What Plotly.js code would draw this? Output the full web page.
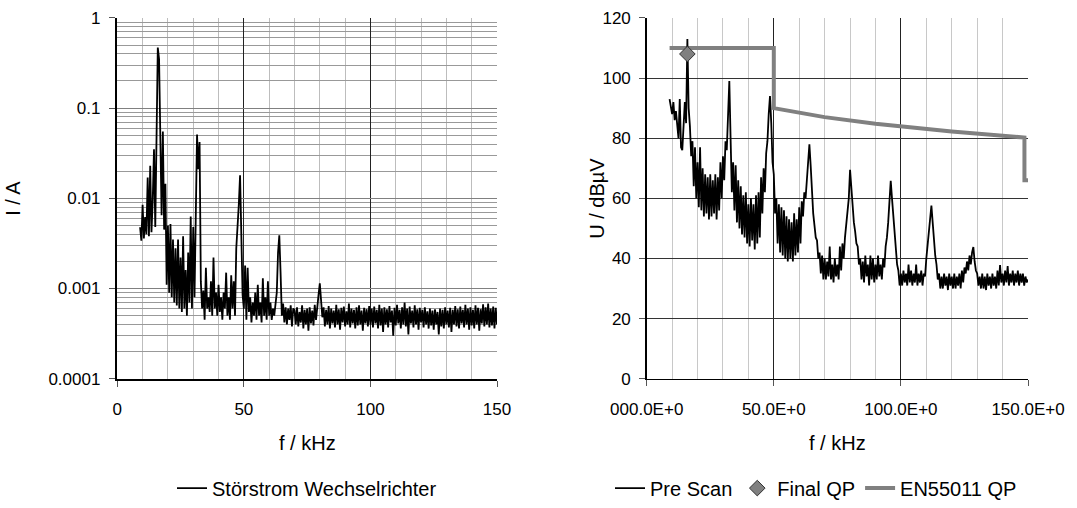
<!DOCTYPE html>
<html>
<head>
<meta charset="utf-8">
<script src="https://cdn.plot.ly/plotly-3.0.1.min.js"></script>
<style>html,body{margin:0;padding:0;background:#fff}#chart{width:1077px;height:508px}</style>
</head>
<body>
<div id="chart"></div>
<script>
// Frequency grid in kHz (shared by both measurements)
const freqKHz = [9,9.5,
10,10.5,11,11.5,12,12.5,13,13.5,14,14.5,15,15.5,16,16.5,17,17.5,18,18.5,19,19.5,
20,20.5,21,21.5,22,22.5,23,23.5,24,24.5,25,25.5,26,26.5,27,27.5,28,28.5,29,29.5,
30,30.5,31,31.5,32,32.5,33,33.5,34,34.5,35,35.5,36,36.5,37,37.5,38,38.5,39,39.5,
40,40.5,41,41.5,42,42.5,43,43.5,44,44.5,45,45.5,46,46.5,47,47.5,48,48.5,49,49.5,
50,50.5,51,51.5,52,52.5,53,53.5,54,54.5,55,55.5,56,56.5,57,57.5,58,58.5,59,59.5,
60,60.5,61,61.5,62,62.5,63,63.5,64,64.5,65,65.5,66,66.5,67,67.5,68,68.5,69,69.5,
70,70.5,71,71.5,72,72.5,73,73.5,74,74.5,75,75.5,76,76.5,77,77.5,78,78.5,79,79.5,
80,80.5,81,81.5,82,82.5,83,83.5,84,84.5,85,85.5,86,86.5,87,87.5,88,88.5,89,89.5,
90,90.5,91,91.5,92,92.5,93,93.5,94,94.5,95,95.5,96,96.5,97,97.5,98,98.5,99,99.5,
100,100.5,101,101.5,102,102.5,103,103.5,104,104.5,105,105.5,106,106.5,107,107.5,108,108.5,109,109.5,
110,110.5,111,111.5,112,112.5,113,113.5,114,114.5,115,115.5,116,116.5,117,117.5,118,118.5,119,119.5,
120,120.5,121,121.5,122,122.5,123,123.5,124,124.5,125,125.5,126,126.5,127,127.5,128,128.5,129,129.5,
130,130.5,131,131.5,132,132.5,133,133.5,134,134.5,135,135.5,136,136.5,137,137.5,138,138.5,139,139.5,
140,140.5,141,141.5,142,142.5,143,143.5,144,144.5,145,145.5,146,146.5,147,147.5,148,148.5,149,149.5,
150];

// Störstrom Wechselrichter, I / A
const stoerstromA = [0.0048,0.0034,
0.0085,0.0036,0.0062,0.0040,0.017,0.0038,0.023,0.0042,0.0095,0.035,0.0048,0.079,0.47,0.35,0.06,0.0065,0.055,0.0045,0.0145,0.0011,
0.005,0.0009,0.0052,0.0008,0.0035,0.0007,0.0028,0.00065,0.0035,0.0006,0.0022,0.00055,0.0038,0.0006,0.0016,0.0005,0.0025,0.0007,0.0063,0.0006,
0.0048,0.0008,0.0062,0.051,0.021,0.042,0.0012,0.0006,0.00095,0.00045,0.0017,0.0006,0.0008,0.00055,0.0012,0.0005,0.0022,0.0006,0.0009,0.0005,
0.0011,0.00055,0.0008,0.00045,0.0009,0.0006,0.0015,0.0005,0.0008,0.00045,0.0014,0.0006,0.0012,0.0005,0.0028,0.0045,0.0085,0.018,0.0042,0.00085,
0.0006,0.0018,0.00045,0.0017,0.00055,0.0008,0.00042,0.0007,0.0005,0.0009,0.00045,0.0011,0.0005,0.0007,0.00042,0.0013,0.0005,0.0008,0.00045,0.0012,
0.0005,0.0007,0.00045,0.0006,0.0005,0.0007,0.0009,0.0025,0.0039,0.0015,0.0005,0.00068,0.00042,0.00062,0.0004,0.0006,0.00045,0.00065,0.00038,0.0006,
0.00058,0.0004,0.00062,0.00038,0.00055,0.00042,0.00065,0.00036,0.00058,0.0004,0.0006,0.00034,0.00062,0.00041,0.00057,0.00039,0.00066,0.00045,0.0007,0.00085,
0.00114,0.00072,0.00048,0.00062,0.00038,0.00058,0.0004,0.00064,0.00036,0.0006,0.00041,0.00057,0.00037,0.00066,0.0004,0.00059,0.00035,0.00061,0.00042,0.00063,
0.00038,0.00056,0.0004,0.00068,0.00037,0.0006,0.00041,0.00058,0.00036,0.00062,0.00039,0.00065,0.0004,0.00057,0.00034,0.00061,0.00041,0.00059,0.00038,0.00064,
0.0004,0.0006,0.00037,0.00063,0.00041,0.00058,0.00036,0.00066,0.00039,0.0006,0.00033,0.00062,0.0004,0.00059,0.00037,0.00064,0.00042,0.00057,0.0003,0.00061,
0.00039,0.00066,0.00041,0.00058,0.00036,0.00062,0.0004,0.0007,0.00038,0.0006,0.00031,0.00063,0.00041,0.00057,0.00037,0.00065,0.0004,0.00059,0.00035,0.00061,
0.00042,0.00058,0.00037,0.00062,0.0004,0.00056,0.00036,0.0006,0.00039,0.00057,0.00035,0.00059,0.0004,0.00055,0.00031,0.0006,0.00038,0.00058,0.00036,0.00062,
0.0004,0.00057,0.00037,0.00061,0.00033,0.00058,0.0004,0.00064,0.00038,0.00059,0.00036,0.00063,0.00041,0.00058,0.00037,0.00066,0.0004,0.0006,0.00035,0.00062,
0.00039,0.00058,0.00036,0.00065,0.0004,0.00061,0.00034,0.00059,0.00041,0.00067,0.00038,0.00062,0.0004,0.00068,0.00037,0.0006,0.00039,0.00063,0.00036,0.00061,
0.0004];

// Pre Scan, U / dBµV
const preScanDb = [93,90,
88,92,86,89,84,80,93,77,76,86,92,85,113,90,84,74,79,64,77,60,
72,57,77,56,70,54,68,55,67,53,68,54,66,55,68,53,67,56,72,60,
74,66,79,76,88,99,80,62,72,56,71,52,66,50,64,48,61,47,62,45,
58,44,60,46,58,43,61,45,62,47,67,55,70,62,75,79,88,94,85,72,
68,55,60,45,58,42,57,41,56,40,54,39,53,40,52,39,55,41,53,42,
57,45,59,54,62,60,66,71,78,71,60,55,51,47,46,40,42,35,41,33,
40,33,39,34,44,33,38,32,40,34,38,33,44,36,45,40,47,52,55,60,
69.5,63,56,52,49,45,44,38,40,33,39,32,41,34,38,31,41,33,40,32,
38,33,41,34,38,33,40,37,44,47,52,58,65.8,60,54,49,44,38,36,31,
35,31,36,32,35,31,38,32,36,31,35,32,38,31,35,32,36,31,35,34,
40,44,48,53,57.6,52,46,41,38,33,35,30,34,30,35,31,34,29.5,35,31,
34,30,35,30,34,31,35,30,36,32,37,35,39,36,41,38,42,43.8,39,36,
35,31,34,30,35,30,34,29.5,35,31,34,30,35,31,34,30,36,31,37.8,32,
35,31,36,32,37.5,31,35,32,36,31,35,32,36,31,35,32,35,31,34,32,
33];

// Final QP measurement
const finalQpKHz = [16];
const finalQpDb = [108];

// EN55011 QP limit line
const limitKHz = [9, 50, 50, 70, 90, 120, 148.6, 148.6, 150];
const limitDb  = [110, 110, 90, 87, 84.8, 82.2, 80.2, 66, 66];

// Tick labels
const leftYTickVals = [0.0001, 0.001, 0.01, 0.1, 1];
const leftYTickText = ['0.0001', '0.001', '0.01', '0.1', '1'];
const xTickVals = [0, 50, 100, 150];
const leftXTickText = ['0', '50', '100', '150'];
const rightXTickText = ['000.0E+0', '50.0E+0', '100.0E+0', '150.0E+0'];

const minorLog = [];
[0.0001, 0.001, 0.01, 0.1].forEach(d => { for (let k = 2; k <= 9; k++) minorLog.push(+(k * d).toPrecision(2)); });

const W = 1077, H = 508;
const px = v => v / W, py = v => 1 - v / H;
const FONT = 'Liberation Sans, Arial, sans-serif';
const TICK = 17, TITLE = 20, LEG = 20;

const traces = [
  {x: freqKHz, y: stoerstromA, type: 'scatter', mode: 'lines', name: 'Störstrom Wechselrichter',
   line: {color: '#000', width: 1.8}, xaxis: 'x', yaxis: 'y', legend: 'legend'},
  {x: limitKHz, y: limitDb, type: 'scatter', mode: 'lines', name: 'EN55011 QP', legendrank: 3,
   line: {color: '#808080', width: 4}, xaxis: 'x2', yaxis: 'y2', legend: 'legend2'},
  {x: freqKHz, y: preScanDb, type: 'scatter', mode: 'lines', name: 'Pre Scan', legendrank: 1,
   line: {color: '#000', width: 1.8}, xaxis: 'x2', yaxis: 'y2', legend: 'legend2'},
  {x: finalQpKHz, y: finalQpDb, type: 'scatter', mode: 'markers', name: 'Final QP', legendrank: 2,
   marker: {symbol: 'diamond', size: 12, color: '#808080', line: {color: '#333', width: 1}},
   xaxis: 'x2', yaxis: 'y2', legend: 'legend2'}
];

const axisCommon = {
  showline: true, linecolor: '#000', zeroline: false, ticks: 'outside', ticklen: 6,
  tickcolor: '#555', tickfont: {family: FONT, size: TICK, color: '#000'}, fixedrange: true
};

const layout = {
  width: W, height: H,
  margin: {l: 0, r: 0, t: 0, b: 0},
  paper_bgcolor: '#fff', plot_bgcolor: '#fff',
  font: {family: FONT, size: TICK, color: '#000'},
  showlegend: true,
  xaxis: Object.assign({}, axisCommon, {
    domain: [px(117.3), px(497)], range: [0, 150], anchor: 'y',
    tickmode: 'array', tickvals: xTickVals, ticktext: leftXTickText,
    showgrid: true, gridcolor: '#222', gridwidth: 1, linewidth: 2, ticklabelstandoff: 8,
    minor: {dtick: 10, showgrid: true, gridcolor: '#bdbdbd', gridwidth: 1, ticks: ''}
  }),
  yaxis: Object.assign({}, axisCommon, {
    domain: [1 - 381 / H, 1 - 18 / H], type: 'log', range: [-4, 0], anchor: 'x',
    tickmode: 'array', tickvals: leftYTickVals, ticktext: leftYTickText,
    showgrid: true, gridcolor: '#808080', gridwidth: 1, linewidth: 2.5, ticklabelstandoff: 5,
    minor: {tickmode: 'array', tickvals: minorLog, showgrid: true, gridcolor: '#999', gridwidth: 1, ticks: ''}
  }),
  xaxis2: Object.assign({}, axisCommon, {
    domain: [px(646.7), px(1028)], range: [0, 150], anchor: 'y2',
    tickmode: 'array', tickvals: xTickVals, ticktext: rightXTickText,
    showgrid: true, gridcolor: '#222', gridwidth: 1, linewidth: 1.5, ticklabelstandoff: 8,
    minor: {dtick: 10, showgrid: true, gridcolor: '#c8c8c8', gridwidth: 1, ticks: ''}
  }),
  yaxis2: Object.assign({}, axisCommon, {
    domain: [1 - 381 / H, 1 - 18 / H], range: [0, 120], anchor: 'x2', dtick: 20,
    showgrid: true, gridcolor: '#333', gridwidth: 1, linewidth: 1.5, ticklabelstandoff: 5
  }),
  legend: {orientation: 'h', x: px(307), xanchor: 'center', y: py(491), yanchor: 'middle',
           font: {family: FONT, size: LEG}, bgcolor: 'rgba(0,0,0,0)', itemwidth: 30},
  legend2: {orientation: 'h', x: px(816), xanchor: 'center', y: py(491), yanchor: 'middle',
            font: {family: FONT, size: LEG}, bgcolor: 'rgba(0,0,0,0)', itemwidth: 30, traceorder: 'normal'},
  annotations: [
    {text: 'I / A', xref: 'paper', yref: 'paper', x: px(13), y: py(200), showarrow: false,
     textangle: -90, font: {family: FONT, size: TITLE}, xanchor: 'center', yanchor: 'middle'},
    {text: 'f / kHz', xref: 'paper', yref: 'paper', x: px(307), y: py(446), showarrow: false,
     font: {family: FONT, size: TITLE}, xanchor: 'center', yanchor: 'middle'},
    {text: 'U / dBµV', xref: 'paper', yref: 'paper', x: px(597), y: py(200), showarrow: false,
     textangle: -90, font: {family: FONT, size: TITLE}, xanchor: 'center', yanchor: 'middle'},
    {text: 'f / kHz', xref: 'paper', yref: 'paper', x: px(838), y: py(446), showarrow: false,
     font: {family: FONT, size: TITLE}, xanchor: 'center', yanchor: 'middle'}
  ]
};

Plotly.newPlot('chart', traces, layout, {displayModeBar: false, staticPlot: true});
</script>
</body>
</html>
